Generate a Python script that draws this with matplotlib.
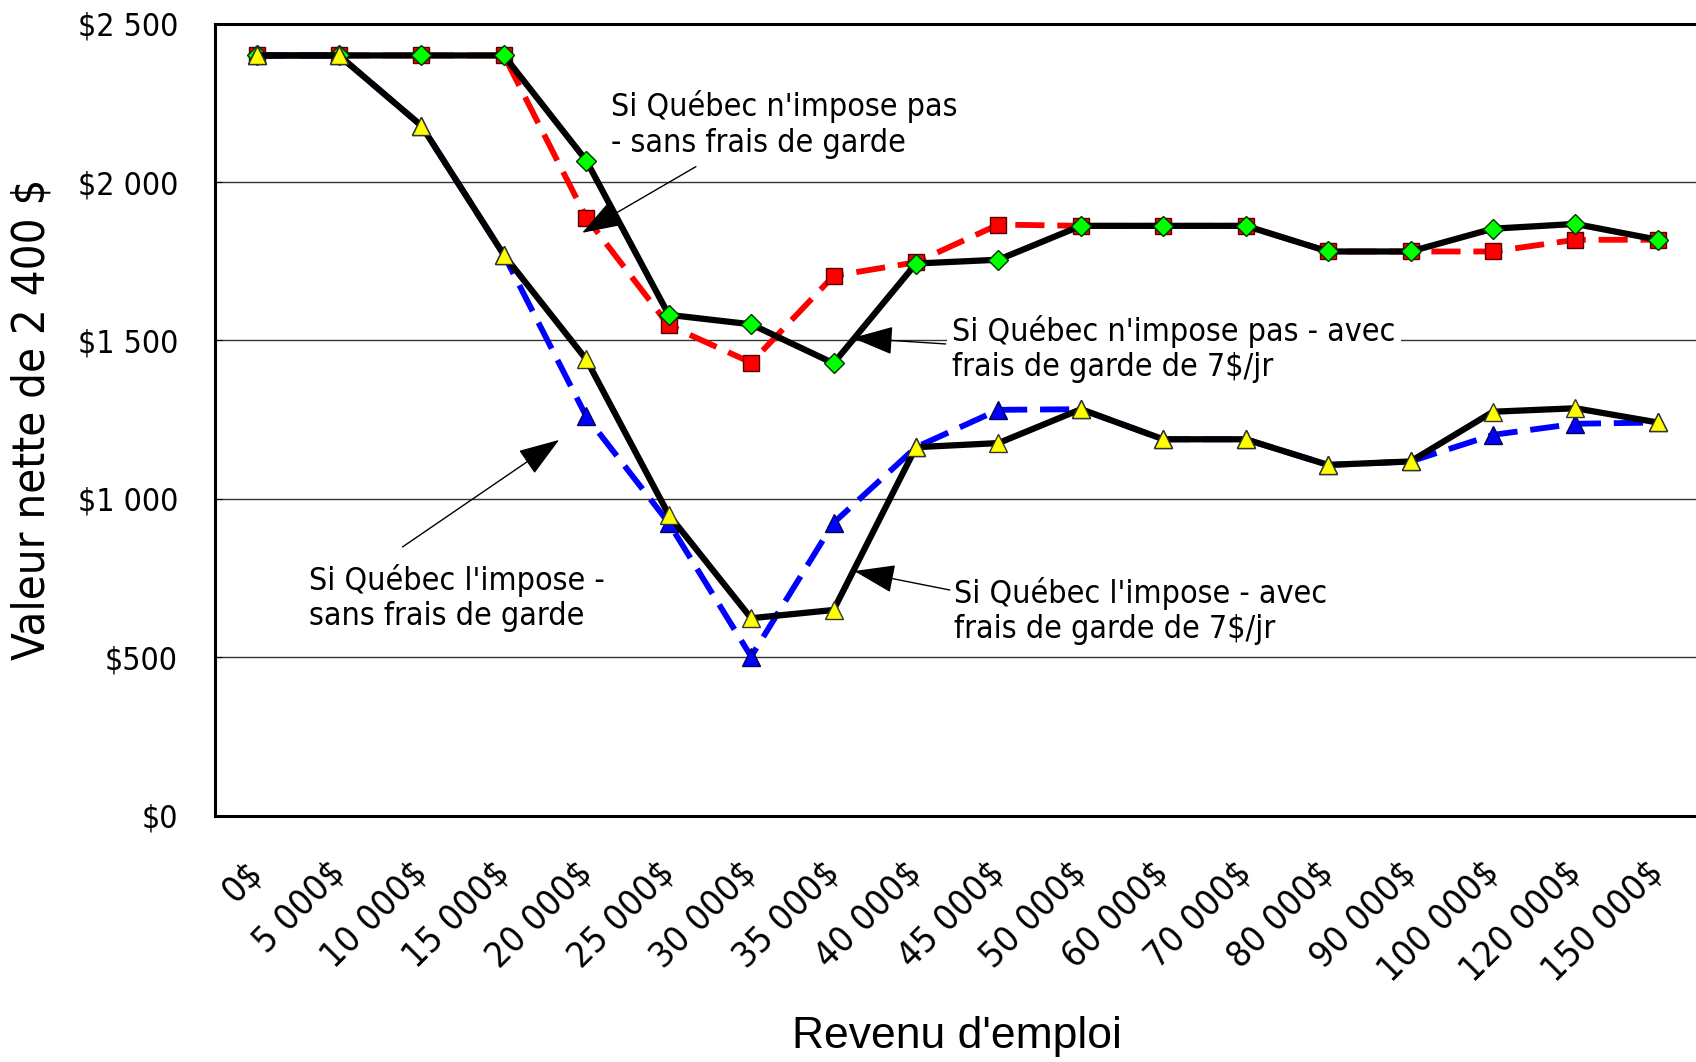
import os
import matplotlib
matplotlib.use("Agg")
import matplotlib.pyplot as plt
import matplotlib.transforms as mtransforms
import matplotlib.font_manager as fm

categories = ['0$', '5 000$', '10 000$', '15 000$', '20 000$', '25 000$', '30 000$',
              '35 000$', '40 000$', '45 000$', '50 000$', '60 000$', '70 000$',
              '80 000$', '90 000$', '100 000$', '120 000$', '150 000$']

npas_sans = [2400, 2400, 2400, 2400, 1888, 1548, 1430, 1704, 1747, 1866, 1862, 1862,
             1862, 1781, 1781, 1781, 1818, 1818]
npas_avec = [2400, 2400, 2400, 2400, 2068, 1581, 1551, 1428, 1743, 1755, 1862, 1862,
             1862, 1781, 1781, 1853, 1868, 1818]
impose_sans = [2400, 2400, 2178, 1770, 1260, 924, 502, 924, 1163, 1281, 1283, 1188,
               1188, 1107, 1118, 1202, 1237, 1241]
impose_avec = [2400, 2400, 2178, 1770, 1440, 950, 623, 649, 1163, 1176, 1283, 1188,
               1188, 1107, 1118, 1275, 1286, 1241]

yticks = [0, 500, 1000, 1500, 2000, 2500]
ytick_labels = ['$0', '$500', '$1 000', '$1 500', '$2 000', '$2 500']


def find_narrow():
    files = [f.fname for f in fm.fontManager.ttflist]
    prefs = ['liberationsansnarrow-regular', 'dejavusanscondensed.ttf',
             'robotocondensed-regular', 'notosans-condensed.', 'opensans_condensed-regular',
             'opensans-condensed']
    for p in prefs:
        for f in files:
            if p in os.path.basename(f).lower():
                return f
    for f in files:
        b = os.path.basename(f).lower()
        if ('condensed' in b or 'narrow' in b) and not any(
                k in b for k in ['bold', 'italic', 'oblique', 'light', 'semi', 'extra',
                                 'thin', 'black', 'medium']):
            return f
    return None


narrow_file = find_narrow()


def narrow_prop(size=20):
    if narrow_file:
        return fm.FontProperties(fname=narrow_file, size=size)
    return fm.FontProperties(family=['Liberation Sans', 'DejaVu Sans'], size=size)


fig = plt.figure(figsize=(16.96, 10.62), dpi=100)
renderer = fig.canvas.get_renderer()


def fit(prop, s, target_px):
    w, h, d = renderer.get_text_width_height_descent(s, prop, ismath=False)
    prop.set_size(prop.get_size() * target_px / w)
    return prop


p_ann = fit(narrow_prop(), "Si Québec n'impose pas", 345)
p_ylab = fit(narrow_prop(), "Valeur nette de 2 400 $", 480)
p_ytick = fit(narrow_prop(), "$2 500", 100)
p_xtick = fit(narrow_prop(), "150 000$", 154)
p_xlab = fit(fm.FontProperties(family=['Liberation Sans', 'DejaVu Sans'], size=30),
             "Revenu d'emploi", 330)

ax = fig.add_axes([0.1270, 0.2321, 0.8748, 0.7455])

x = list(range(len(categories)))

ax.plot(x, npas_sans, color='#FF0000', lw=4.2, dashes=(5, 2.2), marker='s', ms=12,
        mfc='#FF0000', mec='#550000', mew=1, zorder=3)
ax.plot(x, npas_avec, color='black', lw=4.5, marker='D', ms=10,
        mfc='#00FF00', mec='#003300', mew=1, zorder=4)
ax.plot(x, impose_sans, color='#0000FF', lw=4.2, dashes=(5, 2.2), marker='^', ms=13,
        mfc='#0000FF', mec='#000055', mew=1, zorder=5)
ax.plot(x, impose_avec, color='black', lw=4.5, marker='^', ms=13,
        mfc='#FFFF00', mec='#333333', mew=1, zorder=6)

ax.set_xlim(-0.5, 17.5)
ax.set_ylim(0, 2500)
ax.set_yticks(yticks)
ax.set_yticklabels(ytick_labels, fontproperties=p_ytick)
ax.yaxis.grid(True, color='#333333', lw=1)
ax.set_axisbelow(True)

ax.set_xticks(x)
ax.set_xticklabels(categories, fontproperties=p_xtick, rotation=45,
                   ha='right', va='center', rotation_mode='anchor')
offset = mtransforms.ScaledTranslation(19 / 72, 0, fig.dpi_scale_trans)
for lab in ax.get_xticklabels():
    lab.set_transform(lab.get_transform() + offset)
ax.tick_params(axis='x', length=0, pad=37)
ax.tick_params(axis='y', direction='in', length=5, pad=27)

for s in ['left', 'bottom', 'top']:
    ax.spines[s].set_linewidth(2.2)
    ax.spines[s].set_color('black')
ax.spines['right'].set_visible(False)

ax.set_xlabel("Revenu d'emploi", fontproperties=p_xlab)
ax.xaxis.set_label_coords(0.5, (815.5 - 1036) / 791.7)
ax.xaxis.label.set_va('center')
ax.set_ylabel("Valeur nette de 2 400 $", fontproperties=p_ylab)
ax.yaxis.set_label_coords((32 - 215.3) / 1483.7, 0.5)
ax.yaxis.label.set_va('center')

box = dict(facecolor='white', edgecolor='none', pad=4)
arrow = dict(arrowstyle='-|>,head_length=1.3,head_width=0.45', color='black', lw=1,
             mutation_scale=20, shrinkA=0, shrinkB=0)

ann_kw = dict(fontproperties=p_ann, ha='left', va='center', linespacing=1.2,
              bbox=box, zorder=7)

ax.text(4.30, 2181, "Si Québec n'impose pas\n- sans frais de garde", **ann_kw)
ax.annotate('', xy=(3.95, 1840), xytext=(5.33, 2049), arrowprops=arrow, zorder=8)

ax.text(8.44, 1473, "Si Québec n'impose pas - avec\nfrais de garde de 7$/jr", **ann_kw)
ax.annotate('', xy=(7.23, 1508), xytext=(8.36, 1489), arrowprops=arrow, zorder=8)

ax.text(0.64, 687, "Si Québec l'impose -\nsans frais de garde", **ann_kw)
ax.annotate('', xy=(3.67, 1186), xytext=(1.77, 848), arrowprops=arrow, zorder=8)

ax.text(8.46, 646, "Si Québec l'impose - avec\nfrais de garde de 7$/jr", **ann_kw)
ax.annotate('', xy=(7.25, 772), xytext=(8.41, 712), arrowprops=arrow, zorder=8)

fig.savefig('out.png', dpi=100)
